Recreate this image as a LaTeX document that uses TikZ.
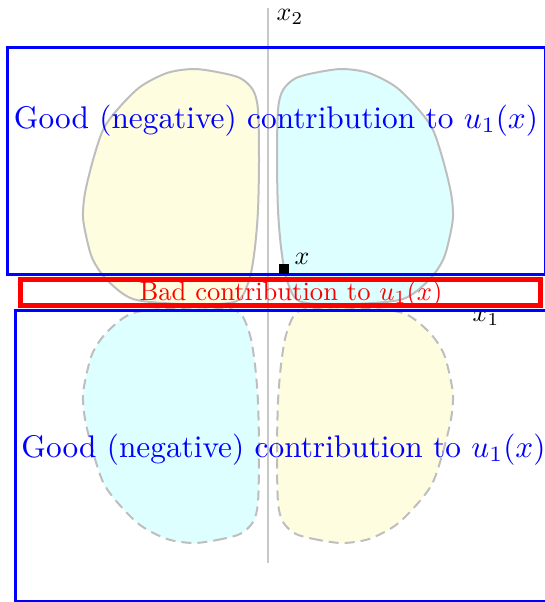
\documentclass[tikz,border=0pt]{standalone}
\definecolor{blobyellow}{RGB}{255,253,224}
\definecolor{blobcyan}{RGB}{221,255,255}
\definecolor{blobline}{RGB}{190,190,190}
\definecolor{axisgray}{RGB}{200,200,200}
\tikzset{
  blob/.pic={\path[pic actions] plot[smooth cycle, tension=0.5] coordinates {(-75,-237) (-51,-234) (-28,-228) (-15,-216) (-10,-196) (-9,-146) (-10,-96) (-13,-59) (-18,-29) (-28,-7) (-48,-2) (-88,-2) (-135,-7) (-161,-26) (-175,-46) (-181,-66) (-185,-89) (-183,-113) (-175,-146) (-165,-176) (-151,-196) (-128,-219) (-101,-233)};},
  solidblob/.style={draw=blobline, line width=2pt},
  dashblob/.style={draw=blobline, line width=2pt, dash pattern=on 10pt off 6pt},
  bluebox/.style={draw=blue, line width=3pt, inner sep=0pt, outer sep=0pt},
  redbox/.style={draw=red, line width=5pt, inner sep=0pt, outer sep=0pt},
  goodtext/.style={text=blue, scale=3.13, transform shape, inner sep=0pt, anchor=base},
  badtext/.style={text=red, scale=2.66, transform shape, inner sep=0pt, anchor=base},
  lbl/.style={scale=2.6, transform shape, inner sep=0pt},
  axisline/.style={draw=axisgray, line width=1.5pt}
}
\begin{document}
\begin{tikzpicture}[x=1pt,y=-1pt]
\useasboundingbox (0,0) rectangle (545,602);
\clip (0,0) rectangle (545,602);
% blobs
\pic[solidblob, fill=blobyellow] at (268,306) {blob};
\pic[solidblob, fill=blobcyan, xscale=-1] at (268,306) {blob};
\pic[dashblob, fill=blobcyan, yscale=-1] at (268,306) {blob};
\pic[dashblob, fill=blobyellow, xscale=-1, yscale=-1] at (268,306) {blob};
% axis
\coordinate (atop) at (268,8);
\coordinate (abot) at (268,563);
\draw[axisline] (atop) -- (abot);
\node[lbl] (x2) at (290,17) {$x_2$};
\node[lbl] (x1) at (486,318) {$x_1$};
% boxes
\node[bluebox, minimum width=538.5pt, minimum height=226.5pt] (good1) at (276.25,160.75) {};
\node[bluebox, minimum width=535.5pt, minimum height=291pt] (good2) at (283.25,455.5) {};
\node[redbox, minimum width=520pt, minimum height=25.5pt] (bad) at (280.5,292.25) {};
% point
\node[fill=black, minimum size=10pt, inner sep=0pt] (pt) at (284,269) {};
\node[lbl] (xl) at (302,259) {$x$};
% texts
\node[goodtext] (t1) at (276,128) {Good (negative) contribution to $u_1(x)$};
\node[goodtext] (t2) at (283.5,457) {Good (negative) contribution to $u_1(x)$};
\node[badtext] (t3) at (291,300) {Bad contribution to $u_1(x)$};
\end{tikzpicture}
\end{document}
